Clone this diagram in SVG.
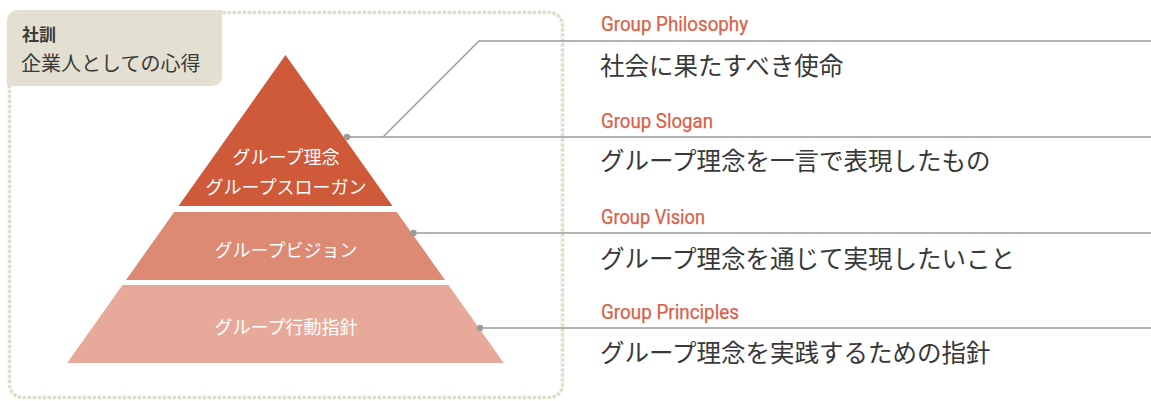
<svg xmlns="http://www.w3.org/2000/svg" width="1151" height="401" viewBox="0 0 1151 401">
<style>
.frame{fill:none;stroke:#e0ddcb;stroke-width:3.5;stroke-dasharray:3.5 1.5}
.conn{fill:none;stroke:#9a9a9a;stroke-width:1.4}
.dot{fill:#9a9a9a}
.tier{font-family:"Noto Sans CJK JP","Noto Sans",sans-serif;font-size:18px;fill:#ffffff;text-anchor:middle}
.en{font-family:Roboto,"Liberation Sans",sans-serif;font-size:20px;font-weight:400;fill:#d9614a;stroke:#d9614a;stroke-width:0.25}
.jp{font-family:"Noto Sans CJK JP",sans-serif;font-size:24.5px;fill:#383838}
.hd{font-family:"Noto Sans CJK JP",sans-serif;fill:#3a3a3a}
</style>
<rect width="1151" height="401" fill="#ffffff"/>
<g id="frame">
<rect class="frame" x="9.5" y="12.5" width="553" height="385" rx="13" ry="13"/>
</g>
<g id="title">
<path d="M7,22 Q7,10 19,10 L222,10 L222,75 Q222,86 211,86 L7,86 Z" fill="#e3e0d2"/>
<text class="hd" x="22" y="41" font-size="17" font-weight="700">社訓</text>
<text class="hd" x="21" y="71" font-size="20">企業人としての心得</text>
</g>
<g id="tier1">
<polygon points="285.5,55 392.5,206 178.5,206" fill="#cf5a3a"/>
<text class="tier" x="286" y="164">グループ理念</text>
<text class="tier" x="286" y="194">グループスローガン</text>
</g>
<g id="tier2">
<polygon points="174.2,212 396.8,212 445,280 126,280" fill="#dc8a73"/>
<text class="tier" x="286" y="257">グループビジョン</text>
</g>
<g id="tier3">
<polygon points="122.5,285 448.5,285 503.8,363 67.2,363" fill="#e7aa9a"/>
<text class="tier" x="286" y="334">グループ行動指針</text>
</g>
<g id="connectors">
<polyline class="conn" points="383,137 479,41 1151,41"/>
<line class="conn" x1="347" y1="137" x2="1151" y2="137"/>
<line class="conn" x1="413.5" y1="233" x2="1151" y2="233"/>
<line class="conn" x1="480" y1="328" x2="1151" y2="328"/>
<circle class="dot" cx="347" cy="137" r="3.2"/>
<circle class="dot" cx="413.5" cy="233" r="3.2"/>
<circle class="dot" cx="480" cy="328" r="3.2"/>
</g>
<g id="philosophy">
<text class="en" x="601" y="31" textLength="147" lengthAdjust="spacingAndGlyphs">Group Philosophy</text>
<text class="jp" x="600" y="75">社会に果たすべき使命</text>
</g>
<g id="slogan">
<text class="en" x="601" y="128" textLength="112" lengthAdjust="spacingAndGlyphs">Group Slogan</text>
<text class="jp" x="600" y="170">グループ理念を一言で表現したもの</text>
</g>
<g id="vision">
<text class="en" x="601" y="224" textLength="104" lengthAdjust="spacingAndGlyphs">Group Vision</text>
<text class="jp" x="600" y="268">グループ理念を通じて実現したいこと</text>
</g>
<g id="principles">
<text class="en" x="601" y="318.5" textLength="138" lengthAdjust="spacingAndGlyphs">Group Principles</text>
<text class="jp" x="600" y="362">グループ理念を実践するための指針</text>
</g>
</svg>
